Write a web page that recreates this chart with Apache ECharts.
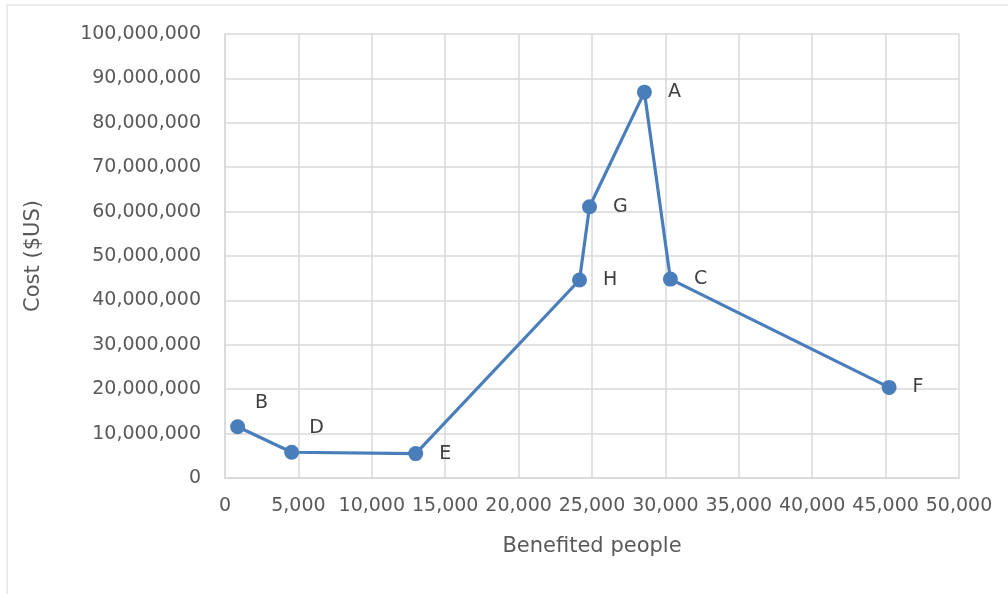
<!DOCTYPE html>
<html>
<head>
<meta charset="utf-8">
<script src="https://cdn.jsdelivr.net/npm/echarts@6/dist/echarts.min.js"></script>
<style>html,body{margin:0;padding:0;background:#fff}#c{width:1008px;height:594px}</style>
</head>
<body>
<div id="c"></div>
<script>
const names = ['B','D','E','H','G','A','C','F'];
const people = [860, 4540, 12990, 24150, 24830, 28570, 30340, 45240];
const cost = [11550000, 5800000, 5500000, 44600000, 61100000, 86900000, 44800000, 20400000];

const raisedLabels = { B: true, D: true };
const fmt = v => Number(v).toLocaleString('en-US');

const data = names.map((n, i) => {
  const item = { value: [people[i], cost[i]], name: n };
  if (raisedLabels[n]) item.label = { offset: [-6, -24] };
  return item;
});

const chart = echarts.init(document.getElementById('c'));
const font = 'DejaVu Sans';
chart.setOption({
  animation: false,
  textStyle: { fontFamily: font },
  graphic: [{
    type: 'rect', shape: { x: 7, y: 5, width: 1010, height: 600 },
    style: { fill: 'none', stroke: '#d9d9d9', lineWidth: 1 }, silent: true
  }],
  grid: { left: 225, top: 34, right: 49, bottom: 116 },
  xAxis: {
    type: 'value', min: 0, max: 50000, interval: 5000,
    name: 'Benefited people', nameLocation: 'middle', nameGap: 58,
    nameTextStyle: { fontSize: 21, color: '#595959', fontFamily: font },
    axisLine: { show: true, lineStyle: { color: '#d9d9d9', width: 1.5 } },
    axisTick: { show: false },
    axisLabel: { formatter: fmt, fontSize: 19, color: '#595959', margin: 19, fontFamily: font },
    splitLine: { show: true, lineStyle: { color: '#d9d9d9', width: 1.5 } }
  },
  yAxis: {
    type: 'value', min: 0, max: 100000000, interval: 10000000,
    name: 'Cost ($US)', nameLocation: 'middle', nameGap: 181, nameRotate: 90,
    nameTextStyle: { fontSize: 21, color: '#595959', fontFamily: font },
    axisLine: { show: true, lineStyle: { color: '#d9d9d9', width: 1.5 } },
    axisTick: { show: false },
    axisLabel: { formatter: fmt, fontSize: 19, color: '#595959', margin: 24, fontFamily: font },
    splitLine: { show: true, lineStyle: { color: '#d9d9d9', width: 1.5 } }
  },
  series: [{
    type: 'line',
    data: data,
    symbol: 'circle', symbolSize: 15,
    lineStyle: { color: '#4a7ebb', width: 3.2 },
    itemStyle: { color: '#4a7ebb' },
    label: {
      show: true, position: 'right', distance: 16,
      formatter: p => p.name, fontSize: 19, color: '#404040', fontFamily: font
    }
  }]
});
</script>
</body>
</html>
